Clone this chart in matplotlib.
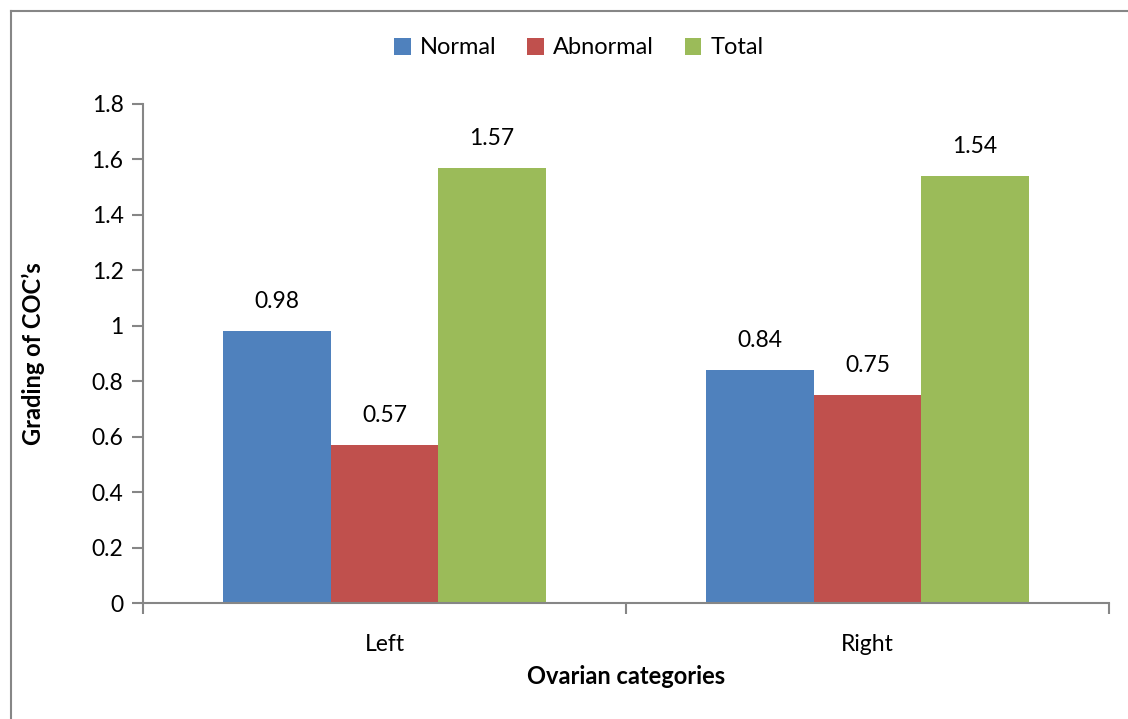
import numpy as np
import matplotlib.pyplot as plt
from matplotlib.lines import Line2D

categories = ['Left', 'Right']
normal = [0.98, 0.84]
abnormal = [0.57, 0.75]
total = [1.57, 1.54]
series_names = ['Normal', 'Abnormal', 'Total']
colors = ['#4F81BD', '#C0504D', '#9BBB59']

plt.rcParams['font.family'] = ['Lato', 'DejaVu Sans']

fig = plt.figure(figsize=(11.28, 7.19), dpi=100)
ax = fig.add_axes([143 / 1128, 116 / 719, 966 / 1128, 499 / 719])

# outer chart frame (top and left edges)
fx, fy = 10.5 / 1128, 1 - 10.5 / 719
fig.lines.append(Line2D([fx, 1.0], [fy, fy], transform=fig.transFigure,
                        color='#868686', linewidth=1.5))
fig.lines.append(Line2D([fx, fx], [0.0, fy], transform=fig.transFigure,
                        color='#868686', linewidth=1.5))

x = np.arange(len(categories))
w = 0.2226
series = [normal, abnormal, total]
bars = []
for i, (vals, name, c) in enumerate(zip(series, series_names, colors)):
    b = ax.bar(x + (i - 1) * w, vals, w, color=c, label=name)
    bars.append(b)
    for xi, v in zip(x + (i - 1) * w, vals):
        ax.annotate(f'{v:g}', (xi, v), xytext=(0, 19), textcoords='offset pixels',
                    ha='center', va='bottom', fontsize=16.5)

ax.set_xlim(-0.5, 1.5)
ax.set_ylim(0, 1.8)
ax.set_yticks(np.arange(0, 1.81, 0.2))
ax.set_yticklabels(['0', '0.2', '0.4', '0.6', '0.8', '1', '1.2', '1.4', '1.6', '1.8'])
ax.set_xticks([-0.5, 0.5, 1.5])
ax.set_xticklabels([])
ax.set_xticks(x, minor=True)
ax.set_xticklabels(categories, minor=True)
ax.tick_params(axis='x', which='minor', length=0, labelsize=16.5, pad=22)
ax.tick_params(axis='x', which='major', length=8, color='#868686', width=1.5)
ax.tick_params(axis='y', length=8, color='#868686', width=1.5, labelsize=16.5, pad=6)

for s in ['top', 'right']:
    ax.spines[s].set_visible(False)
for s in ['left', 'bottom']:
    ax.spines[s].set_color('#868686')
    ax.spines[s].set_linewidth(1.5)

ax.set_ylabel('Grading of COC\u2019s', fontsize=17, fontweight='bold', va='center')
ax.yaxis.set_label_coords(-0.114, 0.5)
ax.set_xlabel('Ovarian categories', fontsize=17, fontweight='bold', va='center')
ax.xaxis.set_label_coords(0.5, -0.148)

fig.legend(handles=[b[0] for b in bars], labels=series_names, loc='center',
           bbox_to_anchor=(579 / 1128, 1 - 48 / 719), ncol=3, frameon=False,
           fontsize=17, handlelength=0.7, handleheight=0.7, handletextpad=0.4,
           columnspacing=1.3)

fig.savefig('out.png', dpi=100)
